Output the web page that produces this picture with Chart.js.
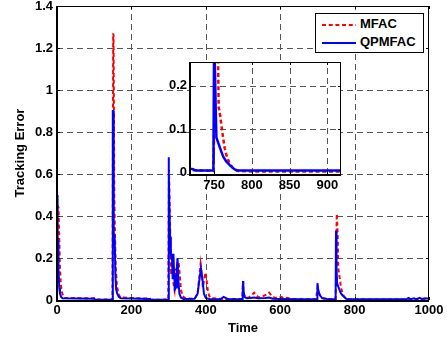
<!DOCTYPE html>
<html><head><meta charset="utf-8">
<script src="https://cdn.jsdelivr.net/npm/chart.js@4/dist/chart.umd.min.js"></script>
<style>
html,body{margin:0;padding:0;background:#fff;}
#wrap{position:relative;width:447px;height:339px;overflow:hidden;background:#fff;}
#main{position:absolute;left:0;top:0;}
#inset{position:absolute;left:140px;top:52px;}
#legend{position:absolute;left:315px;top:13px;width:109px;height:40px;box-sizing:border-box;border:1px solid #000;background:#fff;font:bold 13px "Liberation Sans",Arial,sans-serif;color:#000;}
#legend svg{position:absolute;left:6px;}
#legend span{position:absolute;left:44px;line-height:16px;white-space:nowrap;}
</style></head>
<body>
<div id="wrap">
<canvas id="main" width="447" height="339"></canvas>
<canvas id="inset" width="210" height="145"></canvas>
<div id="legend">
  <svg width="34" height="4" style="top:9px"><line x1="0" y1="2" x2="34" y2="2" stroke="#ff0000" stroke-width="2" stroke-dasharray="4 2.7"/></svg>
  <span id="lg1" style="top:2px"></span>
  <svg width="34" height="4" style="top:27px"><line x1="0" y1="2" x2="34" y2="2" stroke="#0000ff" stroke-width="2"/></svg>
  <span id="lg2" style="top:20px"></span>
</div>
</div>
<script>
// ---- data ----
const seriesNames = ['MFAC', 'QPMFAC'];
const tMFAC = [0, 1, 4, 6, 8, 10, 13, 16, 20, 100, 102, 149, 150, 151, 152, 153, 154, 156, 158, 161, 165, 170, 250, 252, 299, 300, 301, 303, 305, 307, 309, 311, 313, 316, 319, 321, 324, 327, 330, 333, 337, 345, 370, 378, 382, 386, 389, 392, 395, 399, 402, 405, 409, 415, 445, 450, 455, 498, 500, 502, 506, 515, 522, 530, 535, 542, 550, 562, 570, 577, 585, 595, 602, 610, 620, 630, 660, 696, 699, 701, 704, 708, 713, 720, 749, 750, 751, 752, 753, 754, 755, 756, 758, 761, 764, 767, 771, 776, 782, 800, 1000];
const eMFAC = [0, 0.45, 0.44, 0.3, 0.15, 0.08, 0.04, 0.02, 0.01, 0.008, 0.002, 0.002, 0.5, 1.27, 1.26, 0.9, 0.5, 0.3, 0.15, 0.07, 0.03, 0.012, 0.006, 0.001, 0.002, 0.3, 0.62, 0.45, 0.25, 0.12, 0.2, 0.18, 0.08, 0.05, 0.15, 0.1, 0.06, 0.18, 0.12, 0.05, 0.02, 0.008, 0.006, 0.03, 0.1, 0.17, 0.12, 0.06, 0.09, 0.13, 0.1, 0.05, 0.02, 0.008, 0.005, 0.01, 0.005, 0.005, 0.09, 0.03, 0.01, 0.012, 0.02, 0.035, 0.025, 0.012, 0.015, 0.025, 0.035, 0.02, 0.01, 0.012, 0.015, 0.008, 0.01, 0.005, 0.004, 0.004, 0.04, 0.06, 0.035, 0.018, 0.008, 0.005, 0.003, 0.1, 0.3, 0.41, 0.38, 0.33, 0.27, 0.15, 0.13, 0.09, 0.055, 0.035, 0.018, 0.008, 0.003, 0.002, 0.002];
const tQPMFAC = [0, 1, 2, 3, 4, 6, 8, 11, 15, 100, 102, 149, 150, 151, 152, 153, 155, 157, 159, 162, 166, 172, 250, 252, 299, 300, 301, 302, 304, 306, 308, 309, 311, 313, 315, 317, 320, 322, 324, 326, 329, 333, 340, 370, 378, 383, 387, 391, 395, 400, 410, 440, 448, 453, 460, 499, 500, 501, 504, 510, 520, 530, 540, 560, 570, 580, 600, 650, 699, 700, 702, 706, 712, 718, 722, 726, 749, 750, 751, 752, 753, 756, 759, 762, 766, 771, 776, 780, 940, 945, 950, 960, 965, 975, 980, 990, 1000];
const eQPMFAC = [0.5, 0.45, 0.3, 0.28, 0.15, 0.06, 0.03, 0.015, 0.008, 0.006, 0.001, 0.001, 0.9, 0.9, 0.5, 0.32, 0.3, 0.12, 0.05, 0.03, 0.015, 0.008, 0.005, 0.001, 0.001, 0.68, 0.6, 0.45, 0.3, 0.22, 0.2, 0.22, 0.1, 0.22, 0.12, 0.05, 0.06, 0.15, 0.2, 0.1, 0.03, 0.012, 0.005, 0.006, 0.03, 0.1, 0.15, 0.1, 0.03, 0.01, 0.004, 0.005, 0.015, 0.01, 0.004, 0.004, 0.09, 0.05, 0.015, 0.008, 0.01, 0.012, 0.008, 0.01, 0.012, 0.006, 0.005, 0.004, 0.004, 0.08, 0.05, 0.025, 0.01, 0.008, 0.007, 0.004, 0.004, 0.33, 0.33, 0.15, 0.08, 0.065, 0.05, 0.036, 0.025, 0.016, 0.008, 0.004, 0.004, 0.01, 0.004, 0.008, 0.004, 0.01, 0.005, 0.008, 0.006];
const xTicksMain = [0, 200, 400, 600, 800, 1000];
const yTicksMain = [0, 0.2, 0.4, 0.6, 0.8, 1, 1.2, 1.4];
const yTickLabelsMain = ['0', '0.2', '0.4', '0.6', '0.8', '1', '1.2', '1.4'];
const xTicksInset = [750, 800, 850, 900];
const yTicksInset = [0, 0.1, 0.2];
const yTickLabelsInset = ['0', '0.1', '0.2'];
const xTitle = 'Time';
const yTitle = 'Tracking Error';

// ---- rendering ----
const FONT = '"Liberation Sans", Arial, Helvetica, sans-serif';
Chart.defaults.font.family = FONT;
Chart.defaults.color = '#000';
document.getElementById('lg1').textContent = seriesNames[0];
document.getElementById('lg2').textContent = seriesNames[1];

const toPts = (t, e) => t.map((v, i) => ({x: v, y: e[i]}));

function framePlugin(o) {
  return {
    id: 'frame',
    beforeDraw(chart) {
      if (o.bg) {
        const a = chart.chartArea, c = chart.ctx;
        c.save(); c.fillStyle = '#fff';
        c.fillRect(a.left, a.top, a.right - a.left, a.bottom - a.top);
        c.restore();
      }
    },
    beforeDatasetsDraw(chart) {
      const a = chart.chartArea, c = chart.ctx, xs = chart.scales.x, ys = chart.scales.y;
      c.save();
      c.strokeStyle = '#555'; c.lineWidth = 1; c.setLineDash(o.dash);
      o.xGrid.forEach(v => {
        const p = Math.round(xs.getPixelForValue(v)) + 0.5;
        if (p <= a.left + 1 || p >= a.right - 1) return;
        c.beginPath(); c.moveTo(p, a.bottom); c.lineTo(p, a.top); c.stroke();
      });
      o.yGrid.forEach(v => {
        const p = Math.round(ys.getPixelForValue(v)) + 0.5;
        if (p <= a.top + 1 || p >= a.bottom - 1) return;
        c.beginPath(); c.moveTo(a.left, p); c.lineTo(a.right, p); c.stroke();
      });
      c.restore();
    },
    afterDatasetsDraw(chart) {
      const a = chart.chartArea, c = chart.ctx, xs = chart.scales.x, ys = chart.scales.y;
      c.save();
      c.strokeStyle = '#000'; c.setLineDash([]);
      c.lineWidth = 1;
      const L = 3;
      o.xGrid.forEach(v => {
        const p = Math.round(xs.getPixelForValue(v)) + 0.5;
        c.beginPath(); c.moveTo(p, a.bottom); c.lineTo(p, a.bottom - L);
        c.moveTo(p, a.top); c.lineTo(p, a.top + L); c.stroke();
      });
      o.yGrid.forEach(v => {
        const p = Math.round(ys.getPixelForValue(v)) + 0.5;
        c.beginPath(); c.moveTo(a.left, p); c.lineTo(a.left + L, p);
        c.moveTo(a.right, p); c.lineTo(a.right - L, p); c.stroke();
      });
      const l = Math.round(a.left), r = Math.round(a.right), t = Math.round(a.top), b = Math.round(a.bottom);
      c.lineWidth = 1;
      c.beginPath(); c.moveTo(l, t + 0.5); c.lineTo(r, t + 0.5); c.moveTo(r - 0.5, t); c.lineTo(r - 0.5, b); c.stroke();
      c.lineWidth = 2;
      c.beginPath(); c.moveTo(l, t); c.lineTo(l, b + 1); c.lineTo(r, b + 1); c.stroke();
      c.restore();
    }
  };
}

function makeDatasets(bw) {
  return [
    {label: seriesNames[1], data: toPts(tQPMFAC, eQPMFAC), borderColor: '#0000ff', borderWidth: bw, pointRadius: 0, tension: 0, order: 0},
    {label: seriesNames[0], data: toPts(tMFAC, eMFAC), borderColor: '#ff0000', borderWidth: bw, borderDash: [4, 2.7], pointRadius: 0, tension: 0, order: 1}
  ];
}

const tickFont = {family: FONT, size: 13, weight: 'bold'};
const noPadX = (h) => s => { s.height = h; s.paddingLeft = 0; s.paddingRight = 0; s.paddingTop = 0; s.paddingBottom = 0; };
const noPadY = (w) => s => { s.width = w; s.paddingLeft = 0; s.paddingRight = 0; s.paddingTop = 0; s.paddingBottom = 0; };

new Chart(document.getElementById('main'), {
  type: 'line',
  data: {datasets: makeDatasets(2)},
  options: {
    responsive: false, animation: false, devicePixelRatio: 1,
    layout: {autoPadding: false, padding: {left: 0, top: 6, right: 18, bottom: 0}},
    plugins: {legend: {display: false}, tooltip: {enabled: false}},
    scales: {
      x: {
        type: 'linear', min: 0, max: 1000,
        afterBuildTicks: s => { s.ticks = xTicksMain.map(v => ({value: v})); },
        afterFit: noPadX(39),
        grid: {display: false, drawTicks: false}, border: {display: false},
        ticks: {font: tickFont, color: '#000', padding: 3, maxRotation: 0, autoSkip: false, callback: v => String(v)},
        title: {display: true, text: xTitle, font: tickFont, color: '#000', padding: {top: 0, bottom: 3}}
      },
      y: {
        type: 'linear', min: 0, max: 1.4,
        afterBuildTicks: s => { s.ticks = yTicksMain.map(v => ({value: v})); },
        afterFit: noPadY(57),
        grid: {display: false, drawTicks: false}, border: {display: false},
        ticks: {font: tickFont, color: '#000', padding: 4, autoSkip: false, callback: (v, i) => yTickLabelsMain[i]},
        title: {display: true, text: yTitle, font: tickFont, color: '#000', padding: {top: 13, bottom: 0}}
      }
    }
  },
  plugins: [framePlugin({bg: false, dash: [6, 4], xGrid: xTicksMain, yGrid: yTicksMain})]
});

new Chart(document.getElementById('inset'), {
  type: 'line',
  data: {datasets: makeDatasets(2.5)},
  options: {
    responsive: false, animation: false, devicePixelRatio: 1,
    layout: {autoPadding: false, padding: {left: 0, top: 10, right: 9, bottom: 0}},
    plugins: {legend: {display: false}, tooltip: {enabled: false}},
    scales: {
      x: {
        type: 'linear', min: 718, max: 918,
        afterBuildTicks: s => { s.ticks = xTicksInset.map(v => ({value: v})); },
        afterFit: noPadX(23),
        grid: {display: false, drawTicks: false}, border: {display: false},
        ticks: {font: tickFont, color: '#000', padding: 4, maxRotation: 0, autoSkip: false, callback: v => String(v)}
      },
      y: {
        type: 'linear', min: -0.004, max: 0.255,
        afterBuildTicks: s => { s.ticks = yTicksInset.map(v => ({value: v})); },
        afterFit: noPadY(50),
        grid: {display: false, drawTicks: false}, border: {display: false},
        ticks: {font: tickFont, color: '#000', padding: 3, autoSkip: false, callback: (v, i) => yTickLabelsInset[i]}
      }
    }
  },
  plugins: [framePlugin({bg: true, dash: [6, 4], xGrid: xTicksInset, yGrid: [0.1, 0.2]})]
});
</script>
</body></html>
